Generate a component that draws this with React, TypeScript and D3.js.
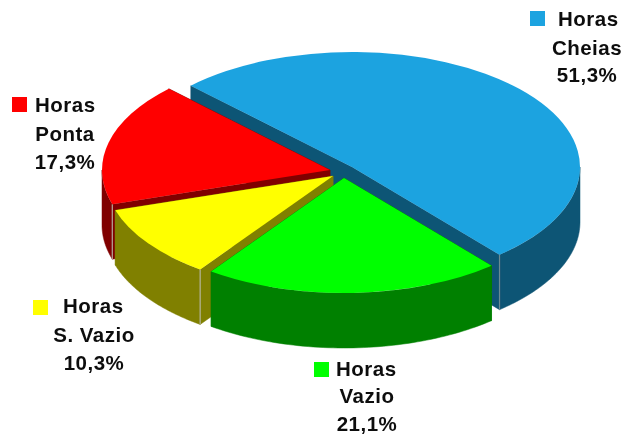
import React from "react";
import * as d3 from "d3";

const categories = ["Horas Cheias", "Horas Vazio", "Horas S. Vazio", "Horas Ponta"];
const values = [51.3, 21.1, 10.3, 17.3];
const valueLabels = ["51,3%", "21,1%", "10,3%", "17,3%"];
const topColors = ["#1FA3E0", "#00FF00", "#FFFF00", "#FF0000"];
const wallColors = ["#115574", "#008000", "#808000", "#800000"];

// layout
const W = 626, H = 438;
const RX = 228, RY = 115, DEPTH = 55;
const START = (-45 * Math.PI) / 180;
const centers: [number, number][] = [[352, 167], [344, 178], [333, 176], [330, 170]];
const legend = [
  { sq: [530, 11], first: [558, 26], cx: 587, y2: 55, y3: 82 },
  { sq: [314, 362], first: [336, 376], cx: 367, y2: 403, y3: 431 },
  { sq: [33, 300], first: [63, 313], cx: 94, y2: 342, y3: 370 },
  { sq: [12, 97], first: [35, 112], cx: 65, y2: 141, y3: 169 },
];
const FONT = "'Liberation Sans', Arial, sans-serif";

const pieGen = d3.pie<number>().sort(null).startAngle(START).endAngle(START + 2 * Math.PI);
const arcs = pieGen(values);
const line = d3.line<[number, number]>();

function App() {
  const drawOrder = [0, 3, 2, 1];
  const pt = (c: [number, number], t: number, dy = 0): [number, number] => [
    c[0] + RX * Math.sin(t),
    c[1] - RY * Math.cos(t) + dy,
  ];
  const arcGen = d3.arc<any>().innerRadius(0).outerRadius(RX);
  return (
    <svg width={W} height={H} viewBox={`0 0 ${W} ${H}`} style={{ position: "absolute", left: 0, top: 0, background: "#fff" }}>
      <defs>
        <filter id="soft" x="-5%" y="-5%" width="110%" height="110%">
          <feGaussianBlur stdDeviation="0.45" />
        </filter>
      </defs>
      <g filter="url(#soft)">
        {drawOrder.map((i) => {
          const a = arcs[i];
          const c = centers[i];
          const apex: [number, number] = [c[0], c[1]];
          const apexD: [number, number] = [c[0], c[1] + DEPTH];
          const p0 = pt(c, a.startAngle), p1 = pt(c, a.endAngle);
          const p0D = pt(c, a.startAngle, DEPTH), p1D = pt(c, a.endAngle, DEPTH);
          const lo = Math.max(a.startAngle, Math.PI / 2);
          const hi = Math.min(a.endAngle, (3 * Math.PI) / 2);
          const ts = d3.range(0, 61).map((k) => lo + ((hi - lo) * k) / 60);
          const rim: [number, number][] = [...ts.map((t) => pt(c, t)), ...ts.slice().reverse().map((t) => pt(c, t, DEPTH))];
          const faces: [number, number][][] = [
            [apex, p0, p0D, apexD],
            [apex, p1, p1D, apexD],
          ];
          return (
            <g key={categories[i]}>
              {faces.map((f, k) => (
                <path key={k} d={line(f) + "Z"} fill={wallColors[i]} stroke={wallColors[i]} strokeWidth={0.5} />
              ))}
              {hi > lo && <path d={line(rim) + "Z"} fill={wallColors[i]} stroke={wallColors[i]} strokeWidth={0.5} />}
              {i !== 1 && (
                <line
                  x1={i === 0 ? p1[0] : p0[0]}
                  y1={i === 0 ? p1[1] : p0[1]}
                  x2={i === 0 ? p1D[0] : p0D[0]}
                  y2={i === 0 ? p1D[1] : p0D[1]}
                  stroke="#B9B9A8"
                  strokeOpacity={i === 0 ? 0.5 : 0.9}
                  strokeWidth={1.2}
                />
              )}
              <path
                d={arcGen({ startAngle: a.startAngle, endAngle: a.endAngle }) as string}
                transform={`translate(${c[0]},${c[1]}) scale(1,${RY / RX})`}
                fill={topColors[i]}
              />
            </g>
          );
        })}
        {categories.map((name, i) => {
          const l = legend[i];
          const rest = name.replace("Horas ", "");
          return (
            <g key={name} fontFamily={FONT} fontWeight="bold" fontSize={20.5} letterSpacing={0.5} fill="#111">
              <rect x={l.sq[0]} y={l.sq[1]} width={15} height={15} fill={topColors[i]} />
              <text x={l.first[0]} y={l.first[1]}>Horas</text>
              <text x={l.cx} y={l.y2} textAnchor="middle">{rest}</text>
              <text x={l.cx} y={l.y3} textAnchor="middle">{valueLabels[i]}</text>
            </g>
          );
        })}
      </g>
    </svg>
  );
}

export default App;
